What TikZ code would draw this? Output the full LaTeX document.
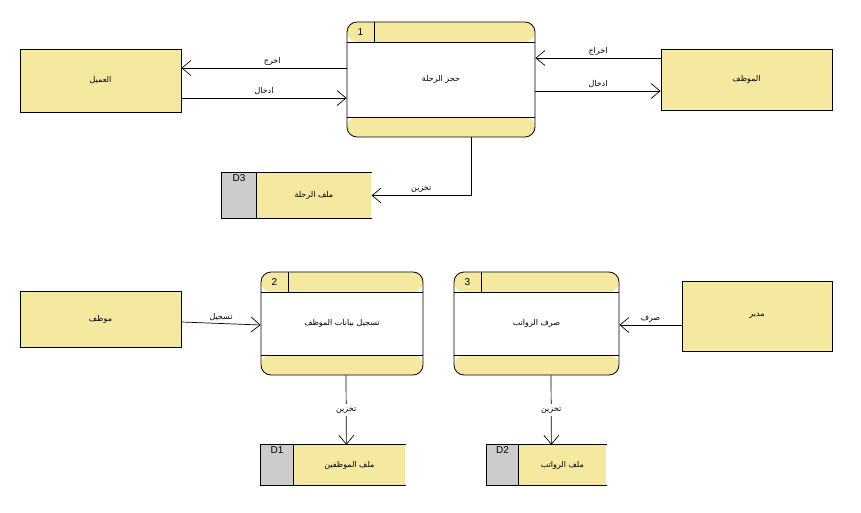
\documentclass[tikz,border=0pt]{standalone}
\usepackage{fontspec}
\setmainfont{Liberation Sans}
\newfontfamily\arabicfont[Script=Arabic]{DejaVu Sans}
\TeXXeTstate=1
\usetikzlibrary{arrows.meta,positioning}
\definecolor{dfdyellow}{RGB}{245,233,160}
\definecolor{dfdgray}{RGB}{204,204,204}
\newcommand{\ar}[1]{{\arabicfont\beginR #1\endR}}

\begin{document}
\begin{tikzpicture}[
    x=1pt, y=-1pt,
    entity/.style={
        rectangle,
        draw,
        fill=dfdyellow,
        line width=0.8pt,
        font=\footnotesize
    },
    proc/.style={
        rectangle,
        rounded corners=10pt,
        draw,
        fill=white,
        line width=0.8pt,
        font=\footnotesize,
        path picture={
            \fill[dfdyellow] (path picture bounding box.north west) rectangle ([yshift=-20pt]path picture bounding box.north east);
            \fill[dfdyellow] (path picture bounding box.south west) rectangle ([yshift=20pt]path picture bounding box.south east);
            \draw[line width=0.8pt] ([yshift=-20pt]path picture bounding box.north west) -- ([yshift=-20pt]path picture bounding box.north east);
            \draw[line width=0.8pt] ([yshift=20pt]path picture bounding box.south west) -- ([yshift=20pt]path picture bounding box.south east);
        }
    },
    numcell/.style={
        rectangle,
        anchor=north west,
        minimum width=27pt,
        minimum height=20pt,
        inner sep=0pt,
        font=\normalsize
    },
    storeid/.style={
        rectangle,
        fill=dfdgray,
        minimum height=#1,
        inner sep=0pt
    },
    storebody/.style={
        rectangle,
        fill=dfdyellow,
        inner sep=0pt,
        font=\footnotesize
    },
    idtext/.style={
        anchor=north,
        inner sep=2pt,
        font=\normalsize
    },
    flow/.style={
        -{Straight Barb[length=9pt,width=15pt]},
        line width=0.7pt
    },
    flowlabel/.style={
        font=\footnotesize,
        inner sep=2.5pt
    }
]
\useasboundingbox (0,0) rectangle (861,513);

% Entities
\node[entity, minimum width=161pt, minimum height=63pt] (client) at (100.5,80.5) {\ar{العميل}};
\node[entity, minimum width=171pt, minimum height=61pt] (staff) at (746.5,79.5) {\ar{الموظف}};
\node[entity, minimum width=161pt, minimum height=56pt] (employee) at (100.5,319) {\ar{موظف}};
\node[entity, minimum width=150pt, minimum height=70pt] (manager) at (757,316) {\ar{مدير}};

% Processes
\node[proc, minimum width=188pt, minimum height=115pt] (p1) at (441,79.5) {\ar{حجز الرحلة}};
\node[numcell] (p1num) at (p1.north west) {1};
\draw[line width=0.8pt] (p1num.north east) -- (p1num.south east);

\node[proc, minimum width=162pt, minimum height=103pt] (p2) at (342,323.5) {\ar{تسجيل بيانات الموظف}};
\node[numcell] (p2num) at (p2.north west) {2};
\draw[line width=0.8pt] (p2num.north east) -- (p2num.south east);

\node[proc, minimum width=165pt, minimum height=103pt] (p3) at (536.5,323.5) {\ar{صرف الرواتب}};
\node[numcell] (p3num) at (p3.north west) {3};
\draw[line width=0.8pt] (p3num.north east) -- (p3num.south east);

% Data stores
\node[storeid=45pt, minimum width=34pt] (d3id) at (239,195.5) {};
\node[storebody, minimum width=115pt, minimum height=45pt, right=0pt of d3id] (d3) {\ar{ملف الرحلة}};
\node[idtext] (d3txt) at (d3id.north) {D3};
\draw[line width=0.8pt] (d3.north east) -- (d3id.north west) -- (d3id.south west) -- (d3.south east);
\draw[line width=0.8pt] (d3id.north east) -- (d3id.south east);

\node[storeid=40pt, minimum width=32pt] (d1id) at (277,465) {};
\node[storebody, minimum width=112pt, minimum height=40pt, right=0pt of d1id] (d1) {\ar{ملف الموظفين}};
\node[idtext] (d1txt) at (d1id.north) {D1};
\draw[line width=0.8pt] (d1.north east) -- (d1id.north west) -- (d1id.south west) -- (d1.south east);
\draw[line width=0.8pt] (d1id.north east) -- (d1id.south east);

\node[storeid=40pt, minimum width=31pt] (d2id) at (502.5,465) {};
\node[storebody, minimum width=88pt, minimum height=40pt, right=0pt of d2id] (d2) {\ar{ملف الرواتب}};
\node[idtext] (d2txt) at (d2id.north) {D2};
\draw[line width=0.8pt] (d2.north east) -- (d2id.north west) -- (d2id.south west) -- (d2.south east);
\draw[line width=0.8pt] (d2id.north east) -- (d2id.south east);

% Flows
\draw[flow] ([yshift=11.5pt]p1.west) -- node[flowlabel, above, pos=0.45] {\ar{اخرج}} ([yshift=12.5pt]client.east);
\draw[flow] ([yshift=-17.5pt]client.east) -- node[flowlabel, above, pos=0.5] {\ar{ادخال}} ([yshift=-18.5pt]p1.west);
\draw[flow] ([yshift=21.5pt]staff.west) -- node[flowlabel, above, pos=0.5] {\ar{اخراج}} ([yshift=21.5pt]p1.east);
\draw[flow] ([yshift=-11.5pt]p1.east) -- node[flowlabel, above, pos=0.5] {\ar{ادخال}} ([yshift=-11.5pt]staff.west);
\draw[flow] ([xshift=30pt]p1.south) |- node[flowlabel, above, pos=0.75] {\ar{تخزين}} (d3.east);

\draw[flow] ([yshift=-3pt]employee.east) -- node[flowlabel, above, pos=0.5] {\ar{تسجيل}} ([yshift=-1.5pt]p2.west);
\draw[flow] ([yshift=-9pt]manager.west) -- node[flowlabel, above, pos=0.5] {\ar{صرف}} ([yshift=-1.5pt]p3.east);
\draw[flow] ([xshift=4pt]p2.south) -- node[flowlabel, fill=white] {\ar{تخزين}} ([xshift=-3pt]d1.north);
\draw[flow] ([xshift=14.5pt]p3.south) -- node[flowlabel, fill=white] {\ar{تخزين}} ([xshift=-11pt]d2.north);

\end{tikzpicture}
\end{document}
